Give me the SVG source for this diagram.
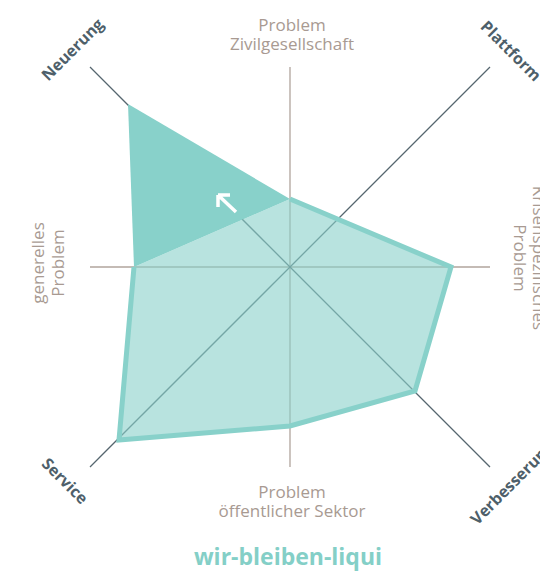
<svg xmlns="http://www.w3.org/2000/svg" width="540" height="572" viewBox="0 0 540 572">
<style>
.ax{stroke:#b0a49c;stroke-width:1.3;fill:none}
.dg{stroke:#56666f;stroke-width:1.3;fill:none}
.lbl{font-family:"Open Sans","Liberation Sans",sans-serif;font-size:17px;fill:#a89a92;text-anchor:middle}
.dim{font-family:"Open Sans","Liberation Sans",sans-serif;font-size:16px;font-weight:bold;fill:#4e5f6a;text-anchor:middle}
.ttl{font-family:"Open Sans","Liberation Sans",sans-serif;font-size:23px;font-weight:bold;fill:#84cfc7;text-anchor:middle}
</style>
<rect width="540" height="572" fill="#ffffff"/>
<g id="connectors">
<line class="ax" x1="290" y1="67" x2="290" y2="467"/>
<line class="ax" x1="90" y1="267" x2="490" y2="267"/>
<line class="dg" x1="90" y1="67" x2="490" y2="467"/>
<line class="dg" x1="490" y1="67" x2="90" y2="467"/>
</g>
<g id="data">
<polygon points="290,199 451,267 415,391 290,426 119,440 134,267" fill="#88d1ca" fill-opacity="0.6"/>
<polyline points="290,199 451,267 415,391 290,426 119,440 134,267" fill="none" stroke="#88d1ca" stroke-width="5" stroke-linejoin="miter"/>
<polygon points="128,104 290,199 134,267" fill="#88d1ca"/>
<path d="M236,212 L218,195 M218,195 H230 M218,195 V207" stroke="#ffffff" stroke-width="3.5" fill="none"/>
</g>
<g id="label-zivil">
<text class="lbl" x="292" y="30.5">Problem</text>
<text class="lbl" x="292" y="50">Zivilgesellschaft</text>
</g>
<g id="label-sektor">
<text class="lbl" x="292" y="497.5">Problem</text>
<text class="lbl" x="292" y="517">öffentlicher Sektor</text>
</g>
<g id="label-generell" transform="translate(44,263) rotate(-90)">
<text class="lbl" x="0" y="0">generelles</text>
<text class="lbl" x="0" y="19.5">Problem</text>
</g>
<g id="label-krisen" transform="translate(533,258) rotate(90)">
<text class="lbl" x="0" y="0">Krisenspezifisches</text>
<text class="lbl" x="0" y="19.5">Problem</text>
</g>
<g id="label-neuerung"><text class="dim" transform="translate(76.5,53.5) rotate(-45)">Neuerung</text></g>
<g id="label-plattform"><text class="dim" transform="translate(507,55) rotate(45)">Plattform</text></g>
<g id="label-service"><text class="dim" transform="translate(61,485) rotate(45)">Service</text></g>
<g id="label-verbesserung"><text class="dim" transform="translate(516,487) rotate(-45)">Verbesserung</text></g>
<g id="title"><text class="ttl" x="288" y="565">wir-bleiben-liqui</text></g>
</svg>
